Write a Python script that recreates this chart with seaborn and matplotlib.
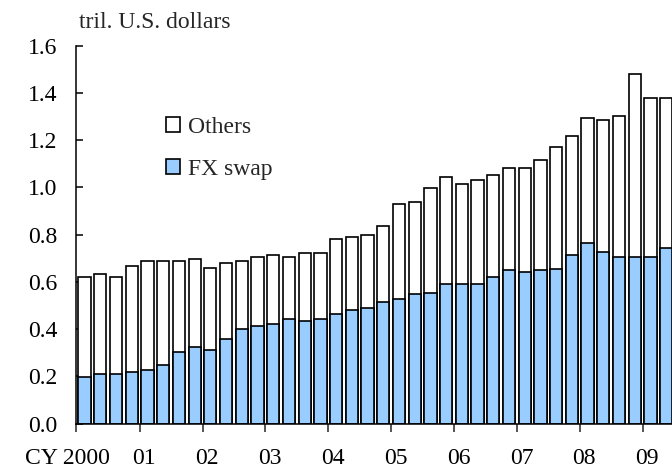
import numpy as np
import pandas as pd
import matplotlib
matplotlib.use("Agg")
import matplotlib.pyplot as plt
import seaborn as sns

# ---- data ----
quarters = [f"{y}Q{q}" for y in range(2000, 2010) for q in range(1, 5)][:38]
fx_swap = [0.198, 0.210, 0.210, 0.220, 0.228, 0.248, 0.304, 0.324, 0.311, 0.359,
           0.399, 0.413, 0.423, 0.444, 0.433, 0.444, 0.463, 0.481, 0.491, 0.516,
           0.529, 0.547, 0.554, 0.591, 0.591, 0.591, 0.621, 0.650, 0.641, 0.650,
           0.656, 0.714, 0.763, 0.725, 0.707, 0.707, 0.707, 0.742]
others = [0.424, 0.423, 0.412, 0.449, 0.459, 0.439, 0.383, 0.373, 0.349, 0.320,
          0.288, 0.294, 0.292, 0.263, 0.291, 0.280, 0.317, 0.310, 0.308, 0.322,
          0.401, 0.393, 0.442, 0.451, 0.424, 0.442, 0.431, 0.430, 0.439, 0.468,
          0.517, 0.504, 0.531, 0.561, 0.596, 0.774, 0.671, 0.636]
year_labels = ["CY 2000", "01", "02", "03", "04", "05", "06", "07", "08", "09"]
y_ticks = [0.0, 0.2, 0.4, 0.6, 0.8, 1.0, 1.2, 1.4, 1.6]
unit_label = "tril. U.S. dollars"

df = pd.DataFrame({"quarter": quarters, "FX swap": fx_swap, "Others": others})
df["total"] = df["FX swap"] + df["Others"]

sns.set_style("ticks")
plt.rcParams["font.family"] = ["Liberation Serif", "DejaVu Serif"]
FS = 17

fig = plt.figure(figsize=(6.72, 4.68), dpi=100)
ax = fig.add_axes([75.5 / 672, (468 - 423.5) / 468, 1 - 75.5 / 672, (423.5 - 45.7) / 468])

BLUE = "#99CCFF"
sns.barplot(data=df, x="quarter", y="total", color="white", saturation=1,
            edgecolor="black", linewidth=1.2, width=0.78, ax=ax, label="Others")
sns.barplot(data=df, x="quarter", y="FX swap", color=BLUE, saturation=1,
            edgecolor="black", linewidth=1.2, width=0.78, ax=ax, label="FX swap")

ax.set_xlim(-0.58, 37.37)
ax.set_ylim(0, 1.6)
ax.set_xlabel("")
ax.set_ylabel("")

# y axis
ax.set_yticks(y_ticks, [f"{v:.1f}" for v in y_ticks])
ax.tick_params(axis="y", direction="in", length=5, width=1.1, pad=13,
               labelsize=FS, colors="black")

# x axis: tick marks at year boundaries, labels slightly right
bounds = [-0.58] + [3.5 + 4 * i for i in range(9)]
ax.set_xticks(bounds, [""] * len(bounds))
ax.tick_params(axis="x", which="major", direction="out", length=6, width=1.1)
label_pos = [1.61] + [b + 0.29 for b in bounds[1:]]
ax.set_xticks(label_pos, year_labels, minor=True)
ax.tick_params(axis="x", which="minor", length=0, pad=18, labelsize=FS,
               colors="black")
ax.get_xticklabels(minor=True)[0].set_horizontalalignment("right")

for s in ["top", "right"]:
    ax.spines[s].set_visible(False)
for s in ["left", "bottom"]:
    ax.spines[s].set_linewidth(1.1)
    ax.spines[s].set_color("black")

fig.text(79 / 672, 1 - 28 / 468, unit_label, fontsize=FS, va="baseline",
         ha="left")

handles, labels = ax.get_legend_handles_labels()
leg = ax.legend(handles, labels, loc="upper left",
                bbox_to_anchor=(166 / 672, 1 - 117 / 468),
                bbox_transform=fig.transFigure, frameon=False, fontsize=FS,
                handlelength=0.6, handleheight=0.6, handletextpad=0.35,
                labelspacing=0.9, borderpad=0, borderaxespad=0)

fig.savefig("out.png", dpi=100)
